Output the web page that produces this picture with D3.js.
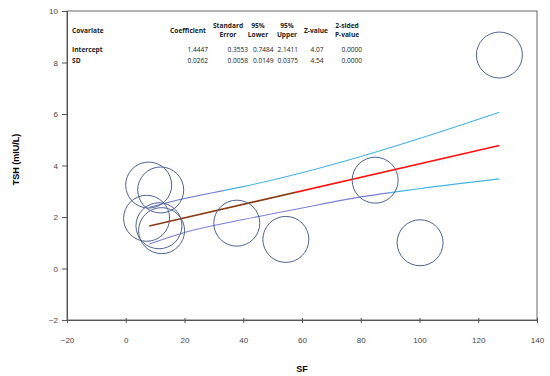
<!DOCTYPE html>
<html lang="en">
<head>
  <meta charset="UTF-8">
  <title>TSH vs SF</title>
  <script src="https://cdn.jsdelivr.net/npm/d3@7"></script>
  <style>
    body { margin: 0; background: #fff; }
    .tick text { font-family: "Liberation Sans", Arial, sans-serif; font-size: 8px; fill: #444; }
    .tbl { font-family: "Open Sans", "DejaVu Sans", sans-serif; font-size: 6.6px; fill: #222; }
  </style>
</head>
<body>
<script>
  // study points (SF, TSH)
  const sf  = [7.8, 11.9, 7.1, 11.3, 12.2, 37.8, 54.5, 84.9, 100.2, 127.2];
  const tsh = [3.24, 3.05, 1.95, 1.66, 1.47, 1.76, 1.13, 3.43, 1.00, 8.29];

  // fitted line and confidence band
  const fitX  = [8, 127.2];
  const fitY  = [1.65, 4.78];
  const bandX = [8, 20, 40, 60, 80, 100, 127.2];
  const upper = [2.38, 2.72, 3.18, 3.72, 4.35, 5.05, 6.07];
  const lower = [0.95, 1.40, 1.90, 2.35, 2.78, 3.10, 3.48];

  const xTicks = [-20, 0, 20, 40, 60, 80, 100, 120, 140];
  const yTicks = [-2, 0, 2, 4, 6, 8, 10];

  const tblHead = [["Coefficient"], ["Standard", "Error"], ["95%", "Lower"], ["95%", "Upper"], ["Z-value"], ["2-sided", "P-value"]];
  const tblRows = ["Intercept", "SD"];
  const tblVals = [
    ["1.4447", "0.3553", "0.7484", "2.1411", "4.07", "0.0000"],
    ["0.0262", "0.0058", "0.0149", "0.0375", "4.54", "0.0000"]
  ];

  const w = 550, h = 376;
  const m = {left: 67, right: 13, top: 11, bottom: 56};

  const svg = d3.select("body").append("svg").attr("width", w).attr("height", h);

  const x = d3.scaleLinear().domain([-20, 140]).range([m.left, w - m.right]);
  const y = d3.scaleLinear().domain([-2, 10]).range([h - m.bottom, m.top]);

  // frame
  svg.append("rect")
     .attr("x", m.left).attr("y", m.top)
     .attr("width", w - m.right - m.left).attr("height", h - m.bottom - m.top)
     .attr("fill", "none").attr("stroke", "#666").attr("stroke-width", 1);

  const xAxis = svg.append("g")
     .attr("transform", `translate(0,${h - m.bottom})`)
     .call(d3.axisBottom(x).tickValues(xTicks).tickSize(3).tickPadding(14));
  xAxis.select(".domain").attr("stroke", "#555");
  xAxis.selectAll(".tick line").attr("stroke", "#555").attr("y1", -2);

  const yAxis = svg.append("g")
     .attr("transform", `translate(${m.left},0)`)
     .call(d3.axisLeft(y).tickValues(yTicks).tickSize(5).tickPadding(4));
  yAxis.select(".domain").attr("stroke", "#555");
  yAxis.selectAll(".tick line").attr("stroke", "#555");

  svg.append("text")
     .attr("x", x(60)).attr("y", 372)
     .attr("text-anchor", "middle")
     .style("font-family", "Liberation Sans, Arial, sans-serif")
     .style("font-size", "9px").style("font-weight", "bold")
     .text("SF");

  svg.append("text")
     .attr("transform", `translate(19,${y(4) - 6}) rotate(-90)`)
     .attr("text-anchor", "middle")
     .style("font-family", "Liberation Sans, Arial, sans-serif")
     .style("font-size", "9px").style("font-weight", "bold")
     .text("TSH (mIU/L)");

  // colour gradients along the lines
  const defs = svg.append("defs");
  function grad(id, split, c1, c2) {
    const g = defs.append("linearGradient").attr("id", id)
      .attr("gradientUnits", "userSpaceOnUse")
      .attr("x1", x(0)).attr("x2", x(130)).attr("y1", 0).attr("y2", 0);
    const f = split / 130;
    g.append("stop").attr("offset", f).attr("stop-color", c1);
    g.append("stop").attr("offset", f).attr("stop-color", c2);
  }
  grad("gFit", 58, "#8a3a12", "#ff1010");
  grad("gUp", 33, "#6678d0", "#45b3e0");
  grad("gLo", 90, "#7a80d8", "#45b3e0");

  const line = d3.line().x(d => x(d[0])).y(d => y(d[1])).curve(d3.curveMonotoneX);

  svg.append("path")
     .attr("d", line(d3.zip(bandX, upper)))
     .attr("fill", "none").attr("stroke", "url(#gUp)").attr("stroke-width", 1.1);
  svg.append("path")
     .attr("d", line(d3.zip(bandX, lower)))
     .attr("fill", "none").attr("stroke", "url(#gLo)").attr("stroke-width", 1.1);
  svg.append("path")
     .attr("d", line(d3.zip(fitX, fitY)))
     .attr("fill", "none").attr("stroke", "url(#gFit)").attr("stroke-width", 1.6);

  svg.append("g")
     .selectAll("circle")
     .data(d3.zip(sf, tsh))
     .enter().append("circle")
     .attr("cx", d => x(d[0]))
     .attr("cy", d => y(d[1]))
     .attr("r", 23)
     .attr("fill", "none")
     .attr("stroke", "#4f6290")
     .attr("stroke-width", 1);

  // coefficient table
  const colX = [188, 228, 258, 287, 316, 347];
  const colR = [208, 248, 273.5, 298, 323.5, 362];
  const tbl = svg.append("g").attr("class", "tbl");

  tbl.append("text").attr("x", 72).attr("y", 33).style("font-weight", "bold").text("Covariate");
  tblHead.forEach((lines, i) => {
    lines.forEach((t, j) => {
      tbl.append("text")
         .attr("x", colX[i])
         .attr("y", lines.length === 1 ? 33 : 28 + j * 9)
         .attr("text-anchor", "middle")
         .style("font-weight", "bold")
         .text(t);
    });
  });
  tblRows.forEach((r, k) => {
    const yy = 52 + k * 11;
    tbl.append("text").attr("x", 72).attr("y", yy).style("font-weight", "bold").text(r);
    tblVals[k].forEach((v, i) => {
      tbl.append("text").attr("x", colR[i]).attr("y", yy).attr("text-anchor", "end").text(v);
    });
  });
</script>
</body>
</html>
